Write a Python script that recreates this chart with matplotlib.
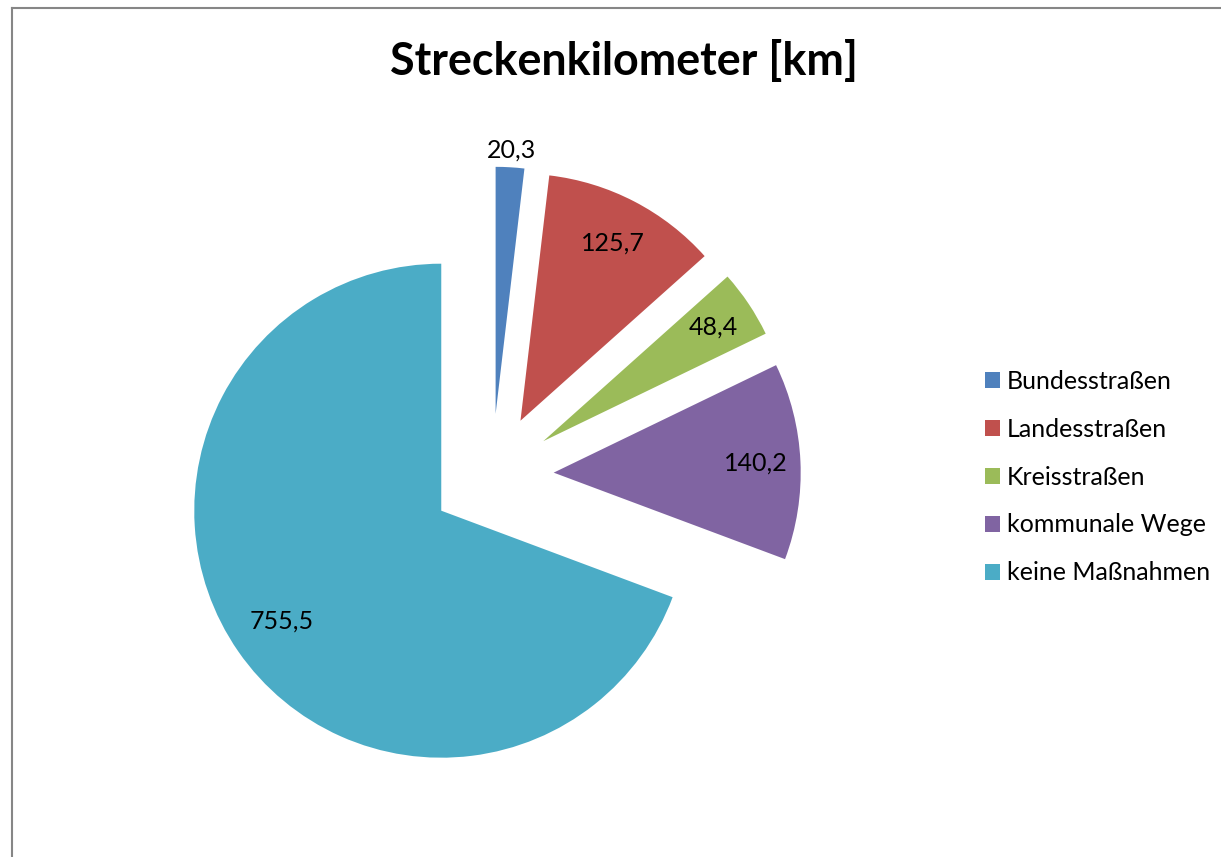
import matplotlib
matplotlib.use("Agg")
import matplotlib.pyplot as plt
from matplotlib.patches import Patch
from matplotlib.lines import Line2D
import numpy as np

plt.rcParams['font.family'] = ['Lato', 'DejaVu Sans']

# Data
categories = ["Bundesstraßen", "Landesstraßen", "Kreisstraßen", "kommunale Wege", "keine Maßnahmen"]
values = [20.3, 125.7, 48.4, 140.2, 755.5]
colors = ["#4F81BD", "#C0504D", "#9BBB59", "#8064A2", "#4BACC6"]
title = "Streckenkilometer [km]"

W, H = 1221, 857
fig = plt.figure(figsize=(W / 100, H / 100), dpi=100)
fig.patch.set_facecolor("white")

R = 247.0          # pie radius in pixels
cx, cy = 492.0, 475.5  # pie centre in pixels (from top-left)

ax = fig.add_axes([0, 0, 1, 1])
wedges, _ = ax.pie(values, colors=colors, startangle=90, counterclock=False,
                   explode=[0.25] * len(values), radius=1.0,
                   wedgeprops=dict(linewidth=0))
ax.set_xlim(-cx / R, (W - cx) / R)
ax.set_ylim((cy - H) / R, cy / R)
ax.set_aspect('auto')
ax.axis('off')

# data labels
label_dist = [1.07, 0.81, 0.83, 0.82, 0.785]
for w, v, d in zip(wedges, values, label_dist):
    th = np.deg2rad((w.theta1 + w.theta2) / 2)
    x0, y0 = w.center
    ax.text(x0 + d * np.cos(th), y0 + d * np.sin(th), f"{v:.1f}".replace('.', ','),
            ha='center', va='center', fontsize=18, color='black')

# title
fig.text(623.5 / W, 1 - 61 / H, title, ha='center', va='center',
         fontsize=32.3, fontweight='bold', color='black')

# legend
handles = [Patch(facecolor=c, edgecolor='none') for c in colors]
leg = fig.legend(handles, categories, loc='center left',
                 bbox_to_anchor=(985 / W, 1 - 477 / H),
                 frameon=False, fontsize=18, labelspacing=1.0,
                 handlelength=0.6, handleheight=0.6, handletextpad=0.28,
                 borderpad=0, borderaxespad=0)

# chart border (top and left visible)
fig.add_artist(Line2D([11.5 / W, 11.5 / W], [0, 1 - 8 / H], transform=fig.transFigure,
                      color='#868686', lw=1.5))
fig.add_artist(Line2D([11.5 / W, 1], [1 - 8 / H, 1 - 8 / H], transform=fig.transFigure,
                      color='#868686', lw=1.5))

fig.savefig("out.png", dpi=100, facecolor='white')
